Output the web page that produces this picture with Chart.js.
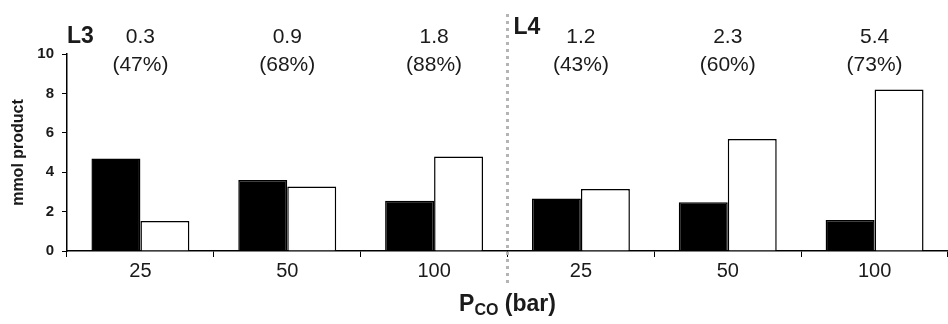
<!DOCTYPE html>
<html>
<head>
<meta charset="utf-8">
<script src="https://cdn.jsdelivr.net/npm/chart.js@4"></script>
<style>
  body { margin: 0; background: #fff; }
  #wrap { width: 948px; height: 324px; position: relative; }
</style>
</head>
<body>
<div id="wrap"><canvas id="chart"></canvas></div>
<script>
const categories = ["25", "50", "100", "25", "50", "100"];
const blackValues = [4.7, 3.6, 2.55, 2.67, 2.47, 1.57];
const whiteValues = [1.52, 3.27, 4.8, 3.15, 5.68, 8.2];
const topNumbers = ["0.3", "0.9", "1.8", "1.2", "2.3", "5.4"];
const topPercents = ["(47%)", "(68%)", "(88%)", "(43%)", "(60%)", "(73%)"];
const groupNames = ["L3", "L4"];

const FONT = "'Liberation Sans', Arial, sans-serif";
const TEXT = "#1a1a1a";

// --- custom drawing: separator, top labels, x title with subscript ---
const annotations = {
  id: "annotations",
  afterDraw(chart) {
    const ctx = chart.ctx;
    const x = chart.scales.x;
    ctx.save();

    // dotted separator between L3 and L4
    const sepX = (x.getPixelForValue(2) + x.getPixelForValue(3)) / 2;
    ctx.strokeStyle = "#b4b4b4";
    ctx.lineWidth = 3;
    ctx.setLineDash([3, 4]);
    ctx.beginPath();
    ctx.moveTo(sepX, 14);
    ctx.lineTo(sepX, 283);
    ctx.stroke();
    ctx.setLineDash([]);

    ctx.fillStyle = TEXT;
    ctx.textAlign = "center";
    ctx.textBaseline = "middle";
    ctx.font = "21px " + FONT;
    topNumbers.forEach((t, i) => {
      const cx = x.getPixelForValue(i);
      ctx.fillText(t, cx, 37);
      ctx.fillText(topPercents[i], cx, 65);
    });

    ctx.font = "bold 23px " + FONT;
    ctx.textAlign = "left";
    ctx.fillText(groupNames[0], 67, 37);
    ctx.fillText(groupNames[1], sepX + 6, 28);

    // x axis title P_CO (bar)
    const midX = (chart.chartArea.left + chart.chartArea.right) / 2;
    const y = 305;
    ctx.font = "bold 23px " + FONT;
    const wP = ctx.measureText("P").width;
    const wRest = ctx.measureText(" (bar)").width;
    ctx.font = "bold 16px " + FONT;
    const wSub = ctx.measureText("CO").width;
    let sx = midX - (wP + wSub + wRest) / 2;
    ctx.font = "bold 23px " + FONT;
    ctx.fillText("P", sx, y);
    sx += wP;
    ctx.font = "bold 16px " + FONT;
    ctx.fillText("CO", sx, y + 6);
    sx += wSub;
    ctx.font = "bold 23px " + FONT;
    ctx.fillText(" (bar)", sx, y);

    ctx.restore();
  },
};

new Chart(document.getElementById("chart"), {
  type: "bar",
  data: {
    labels: categories,
    datasets: [
      {
        data: blackValues,
        backgroundColor: "#000",
        borderColor: "#000",
        borderWidth: 1.5,
      },
      {
        data: whiteValues,
        backgroundColor: "#fff",
        borderColor: "#000",
        borderWidth: 1.5,
      },
    ],
  },
  options: {
    responsive: true,
    maintainAspectRatio: false,
    animation: false,
    layout: { padding: { top: 54, right: 0, left: 0, bottom: 0 } },
    plugins: {
      legend: { display: false },
      tooltip: { enabled: false },
    },
    datasets: {
      bar: { categoryPercentage: 0.667, barPercentage: 1 },
    },
    scales: {
      x: {
        afterFit(scale) { scale.height = 73; },
        grid: { offset: true, drawOnChartArea: false, tickLength: 6, color: "#000" },
        border: { color: "#000", width: 1.5 },
        ticks: { font: { family: FONT, size: 20 }, color: TEXT, padding: 2 },
      },
      y: {
        min: 0,
        max: 10,
        afterFit(scale) { scale.width = 67; },
        grid: { drawOnChartArea: false, tickLength: 5, color: "#000" },
        border: { color: "#000", width: 1.5 },
        ticks: {
          stepSize: 2,
          font: { family: FONT, size: 15, weight: "bold" },
          color: TEXT,
          padding: 8,
        },
        title: {
          display: true,
          text: "mmol product",
          font: { family: FONT, size: 16, weight: "bold" },
          color: TEXT,
          padding: { top: 9, bottom: 0 },
        },
      },
    },
  },
  plugins: [annotations],
});
</script>
</body>
</html>
